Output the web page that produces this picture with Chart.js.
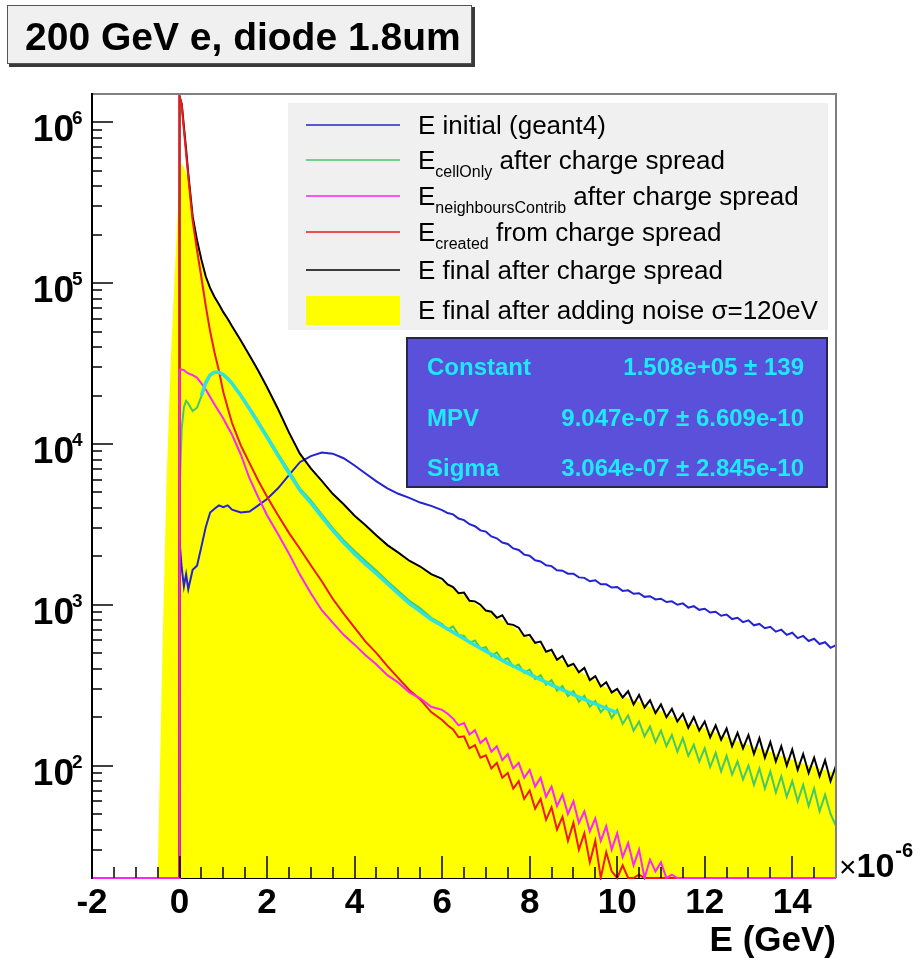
<!DOCTYPE html>
<html>
<head>
<meta charset="utf-8">
<title>200 GeV e, diode 1.8um</title>
<script src="https://cdn.jsdelivr.net/npm/chart.js@4.4.1/dist/chart.umd.min.js"></script>
<style>
  html, body { margin: 0; padding: 0; background: #fff; }
  canvas { display: block; }
</style>
</head>
<body>
<canvas id="energyChart" width="922" height="962"></canvas>
<script>
// Axis ranges (E in units of 1e-6 GeV, counts on a log axis)
const X_MIN = -2, X_MAX = 15;
const Y_MIN = 20, Y_MAX = 1.5e6;
const X_TICKS = [-2, 0, 2, 4, 6, 8, 10, 12, 14];
const Y_DECADES = [2, 3, 4, 5, 6];

// Bin positions shared by all histograms (0 appears twice: floor, then first bin)
const E_BINS = [
  -2, -1, -0.5, -0.4, -0.3, -0.2, -0.1, 0, 0,
  0.05, 0.1, 0.15, 0.2, 0.3, 0.4, 0.5, 0.6, 0.7, 0.8, 0.9, 1.0, 1.1, 1.2, 1.4, 1.6, 1.8, 2.0,
  2.25, 2.5, 2.75, 3, 3.25, 3.5, 3.75, 4, 4.25, 4.5, 4.75, 5, 5.25, 5.5, 5.75, 6,
  6.125, 6.25, 6.375, 6.5, 6.625, 6.75, 6.875, 7,
  7.125, 7.25, 7.375, 7.5, 7.625, 7.75, 7.875, 8,
  8.125, 8.25, 8.375, 8.5, 8.625, 8.75, 8.875, 9,
  9.125, 9.25, 9.375, 9.5, 9.625, 9.75, 9.875, 10,
  10.125, 10.25, 10.375, 10.5, 10.625, 10.75, 10.875, 11,
  11.125, 11.25, 11.375, 11.5, 11.625, 11.75, 11.875, 12,
  12.125, 12.25, 12.375, 12.5, 12.625, 12.75, 12.875, 13,
  13.125, 13.25, 13.375, 13.5, 13.625, 13.75, 13.875, 14,
  14.125, 14.25, 14.375, 14.5, 14.625, 14.75, 14.875, 15
];

// 0 = empty bin (drawn on the axis floor, as ROOT does)
const E_INITIAL = [
  0, 0, 0, 0, 0, 0, 0, 0, 2500,
  1700, 1300, 1550, 1250, 1650, 1750, 2300, 3050, 3750, 3950, 4150, 4050, 4150, 3900, 3750, 3800, 4150, 4550,
  5300, 6400, 7700, 8400, 8850, 8700, 8150, 7350, 6550, 5850, 5300, 4900, 4620, 4320, 4120, 3880,
  3720, 3650, 3440, 3360, 3170, 3080, 2900, 2850,
  2660, 2590, 2440, 2390, 2240, 2190, 2050, 2020,
  1890, 1860, 1760, 1740, 1640, 1630, 1560, 1560,
  1480, 1470, 1400, 1420, 1340, 1340, 1280, 1290,
  1220, 1230, 1170, 1180, 1120, 1130, 1080, 1090,
  1040, 1050, 1000, 1020, 960, 980, 930, 945,
  895, 905, 855, 870, 815, 830, 780, 800,
  745, 760, 715, 730, 680, 700, 650, 670,
  620, 640, 595, 615, 570, 585, 540, 560
];

const E_CELL_ONLY = [
  0, 0, 0, 0, 0, 0, 0, 0, 5000,
  12500, 17000, 18500, 17800, 16000, 16800, 19800, 23500, 26500, 28000, 27800, 26800, 25400, 23800, 20200, 16800, 13800, 11300,
  8700, 6800, 5300, 4450, 3650, 3000, 2520, 2160, 1870, 1630, 1400, 1220, 1060, 950, 830, 760,
  700, 735, 650, 640, 580, 600, 535, 545,
  480, 505, 450, 465, 410, 425, 378, 395,
  345, 365, 318, 340, 292, 312, 270, 290,
  250, 272, 232, 252, 215, 235, 198, 222,
  182, 205, 165, 188, 152, 175, 140, 165,
  132, 155, 122, 148, 115, 135, 106, 128,
  98, 120, 92, 115, 88, 106, 82, 100,
  76, 96, 72, 92, 68, 86, 64, 80,
  60, 76, 56, 72, 52, 66, 50, 42
];

const E_NEIGHBOURS = [
  0, 0, 0, 0, 0, 0, 0, 0, 29000,
  29000, 28800, 28000, 27500, 26800, 25800, 23800, 21800, 19600, 17600, 15900, 14400, 12800, 11400, 8600, 6100, 4650, 3600,
  2750, 2080, 1540, 1180, 925, 775, 650, 565, 485, 425, 365, 328, 285, 262, 232, 222,
  210, 196, 178, 184, 156, 166, 138, 148,
  122, 132, 108, 118, 96, 104, 84, 94,
  74, 84, 64, 74, 56, 66, 50, 60,
  44, 52, 39, 47, 34, 42, 30, 38,
  27, 33, 24, 30, 0, 26, 22, 25,
  0, 21, 0, 0, 0, 0, 0, 0,
  0, 0, 0, 0, 0, 0, 0, 0,
  0, 0, 0, 0, 0, 0, 0, 0,
  0, 0, 0, 0, 0, 0, 0, 0
];

const E_CREATED = [
  0, 0, 0, 0, 0, 0, 0, 0, 1450000,
  1280000, 900000, 640000, 460000, 245000, 160000, 108000, 72000, 50000, 37000, 28500, 21000, 16800, 13500, 9800, 7600, 5900, 4700,
  3600, 2800, 2230, 1760, 1400, 1090, 880, 720, 590, 500, 415, 350, 295, 258, 215, 192,
  178, 168, 150, 152, 128, 134, 112, 116,
  96, 104, 84, 90, 72, 80, 62, 70,
  54, 62, 46, 55, 40, 48, 34, 44,
  30, 38, 25, 34, 0, 29, 22, 0,
  24, 0, 0, 21, 0, 0, 0, 0,
  0, 0, 0, 0, 0, 0, 0, 0,
  0, 0, 0, 0, 0, 0, 0, 0,
  0, 0, 0, 0, 0, 0, 0, 0,
  0, 0, 0, 0, 0, 0, 0, 0
];

const E_FINAL = [
  0, 0, 0, 0, 0, 0, 0, 0, 1450000,
  1300000, 940000, 680000, 480000, 260000, 185000, 140000, 110000, 93000, 82000, 74000, 66000, 60000, 54000, 44000, 35500, 28500, 22500,
  16500, 11800, 8700, 7050, 5900, 4900, 4220, 3580, 3120, 2700, 2350, 2110, 1880, 1730, 1550, 1450,
  1340, 1290, 1180, 1190, 1060, 1050, 1000, 920,
  905, 830, 860, 760, 750, 720, 640, 650,
  580, 590, 510, 525, 455, 480, 415, 430,
  380, 405, 340, 360, 310, 330, 285, 300,
  265, 290, 240, 275, 230, 255, 212, 240,
  200, 225, 188, 210, 172, 200, 165, 188,
  150, 178, 145, 170, 132, 160, 128, 155,
  118, 148, 112, 140, 106, 132, 100, 126,
  94, 118, 90, 112, 86, 108, 80, 100
];

const E_NOISE = [
  0, 0, 20, 400, 5500, 33000, 130000, 450000, 450000,
  550000, 530000, 480000, 440000, 255000, 183000, 139000, 109000, 92000, 81000, 73000, 65500, 59500, 53500, 43500, 35000, 28000, 22200,
  16300, 11700, 8600, 7000, 5800, 4870, 4150, 3560, 3080, 2680, 2330, 2080, 1860, 1700, 1540, 1400,
  1330, 1260, 1200, 1140, 1080, 1020, 970, 920,
  880, 840, 805, 770, 730, 690, 655, 620,
  588, 555, 528, 500, 475, 450, 430, 410,
  390, 370, 355, 340, 322, 305, 295, 285,
  273, 262, 256, 250, 241, 232, 225, 218,
  210, 202, 197, 192, 186, 180, 175, 170,
  165, 160, 155, 151, 146, 142, 138, 135,
  131, 128, 125, 122, 118, 115, 112, 109,
  106, 103, 101, 99, 96, 94, 92, 90
];

// Landau fit curve (null = outside the fit range)
const LANDAU_FIT = [
  null, null, null, null, null, null, null, null, null,
  null, null, null, null, null, null, 20000, 24200, 26900, 27900, 27900, 27000, 25500, 23800, 20000, 16500, 13500, 11000,
  8500, 6600, 5150, 4300, 3520, 2900, 2430, 2070, 1790, 1560, 1350, 1170, 1020, 910, 810, 740,
  707, 675, 645, 615, 587, 560, 537, 515,
  492, 470, 451, 432, 416, 400, 385, 370,
  356, 342, 330, 318, 307, 296, 286, 276,
  267, 258, 250, 242, 234, 227, 220, 213,
  null, null, null, null, null, null, null, null,
  null, null, null, null, null, null, null, null,
  null, null, null, null, null, null, null, null,
  null, null, null, null, null, null, null, null,
  null, null, null, null, null, null, null, null
];

const FIT_NAMES = ['Constant', 'MPV', 'Sigma'];
const FIT_VALUES = ['1.508e+05 \u00b1 139', '9.047e-07 \u00b1 6.609e-10', '3.064e-07 \u00b1 2.845e-10'];

const LEGEND_SUBS = ['', 'cellOnly', 'neighboursContrib', 'created', '', ''];
const LEGEND_TEXT = [
  'E initial (geant4)',
  ' after charge spread',
  ' after charge spread',
  ' from charge spread',
  'E final after charge spread',
  'E final after adding noise \u03c3=120eV'
];

const COLORS = {
  initial: '#2323d2',
  cellOnly: '#46c866',
  neighbours: '#ff22ff',
  created: '#f01818',
  final: '#000000',
  noise: '#ffff00',
  fit: '#2fe3dc'
};
const LEGEND_COLORS = [COLORS.initial, COLORS.cellOnly, COLORS.neighbours, COLORS.created, COLORS.final, COLORS.noise];

function points(values) {
  return E_BINS.map((x, i) => {
    const v = values[i];
    if (v === null) return { x, y: null };
    return { x, y: v > 0 ? v : Y_MIN };
  });
}

function hist(label, values, color, order, width) {
  return {
    label, data: points(values), borderColor: color, backgroundColor: color,
    borderWidth: width || 2, pointRadius: 0, tension: 0, fill: false, order,
    clip: { left: 0, top: 0, right: 0, bottom: 2 }
  };
}

function text(ctx, s, x, y, font, color, align) {
  ctx.font = font;
  ctx.fillStyle = color;
  ctx.textAlign = align || 'left';
  ctx.textBaseline = 'alphabetic';
  ctx.fillText(s, x, y);
  return ctx.measureText(s).width;
}

const FONT = '"Liberation Sans", Arial, Helvetica, sans-serif';

const rootPad = {
  id: 'rootPad',
  beforeDraw(chart) {
    const { ctx, width, height } = chart;
    ctx.save();
    ctx.fillStyle = '#ffffff';
    ctx.fillRect(0, 0, width, height);
    ctx.restore();
  },
  beforeDatasetsDraw(chart) {
    const { ctx, chartArea: a } = chart;
    ctx.save();
    ctx.strokeStyle = '#000';
    ctx.lineWidth = 2;
    ctx.beginPath();
    ctx.moveTo(a.left, a.bottom);
    ctx.lineTo(a.right, a.bottom);
    ctx.stroke();
    ctx.restore();
  },
  afterDatasetsDraw(chart) {
    const { ctx, chartArea: a } = chart;
    const xs = chart.scales.x, ys = chart.scales.y;
    ctx.save();

    // frame
    ctx.lineWidth = 2;
    ctx.strokeStyle = '#808080';
    ctx.beginPath();
    ctx.moveTo(a.left, a.top);
    ctx.lineTo(a.right, a.top);
    ctx.lineTo(a.right, a.bottom);
    ctx.stroke();
    ctx.strokeStyle = '#000';
    ctx.beginPath();
    ctx.moveTo(a.left, a.top - 1);
    ctx.lineTo(a.left, a.bottom + 1);
    ctx.stroke();

    // y ticks (inside the frame)
    ctx.lineWidth = 1.5;
    for (let p = 1; p <= 6; p++) {
      for (let m = 1; m <= 9; m++) {
        const v = m * Math.pow(10, p);
        if (v <= Y_MIN || v > Y_MAX) continue;
        const py = Math.round(ys.getPixelForValue(v));
        ctx.beginPath();
        ctx.moveTo(a.left, py);
        ctx.lineTo(a.left + (m === 1 ? 21 : 10), py);
        ctx.stroke();
      }
    }
    // x ticks
    for (let v = X_MIN + 0.5; v < X_MAX; v += 0.5) {
      const px = Math.round(xs.getPixelForValue(v));
      const major = X_TICKS.includes(v);
      ctx.beginPath();
      ctx.moveTo(px, a.bottom);
      ctx.lineTo(px, a.bottom - (major ? 22 : 11));
      ctx.stroke();
    }

    // y labels 10^n
    Y_DECADES.forEach((p) => {
      const py = ys.getPixelForValue(Math.pow(10, p));
      text(ctx, '10', 74, py + 19, 'bold 37px ' + FONT, '#000', 'right');
      text(ctx, String(p), 72, py + 2, 'bold 19px ' + FONT, '#000', 'left');
    });
    // x labels
    X_TICKS.forEach((v) => {
      const px = xs.getPixelForValue(v);
      text(ctx, String(v), px, 913, 'bold 35px ' + FONT, '#000', 'center');
    });
    text(ctx, 'E (GeV)', a.right, 951, 'bold 35px ' + FONT, '#000', 'right');
    // x10^-6 multiplier
    let mx = a.right + 3;
    mx += text(ctx, '\u00d7', mx, 877, '30px ' + FONT, '#000', 'left');
    mx += text(ctx, '10', mx, 877, 'bold 34px ' + FONT, '#000', 'left');
    text(ctx, '-6', mx + 1, 857, 'bold 20px ' + FONT, '#000', 'left');

    drawLegend(ctx);
    drawFitBox(ctx);
    drawTitle(ctx);
    ctx.restore();
  }
};

function drawLegend(ctx) {
  const rowY = [125, 160, 196, 232, 270, 310];
  ctx.fillStyle = '#f0f0f0';
  ctx.fillRect(288, 103, 540, 227);
  rowY.forEach((y, i) => {
    if (i === 5) {
      ctx.fillStyle = LEGEND_COLORS[i];
      ctx.fillRect(306, y - 14, 94, 29);
    } else {
      ctx.strokeStyle = LEGEND_COLORS[i];
      ctx.lineWidth = 1.5;
      ctx.beginPath();
      ctx.moveTo(306, y);
      ctx.lineTo(400, y);
      ctx.stroke();
    }
    const base = y + 9;
    let tx = 418;
    if (LEGEND_SUBS[i]) {
      tx += text(ctx, 'E', tx, base, '26px ' + FONT, '#000', 'left');
      tx += text(ctx, LEGEND_SUBS[i], tx, base + 8, '16px ' + FONT, '#000', 'left');
      text(ctx, LEGEND_TEXT[i], tx, base, '26px ' + FONT, '#000', 'left');
    } else {
      text(ctx, LEGEND_TEXT[i], tx, base, '26px ' + FONT, '#000', 'left');
    }
  });
}

function drawFitBox(ctx) {
  ctx.fillStyle = '#5a50d9';
  ctx.fillRect(407, 338, 420, 149);
  ctx.strokeStyle = '#26264a';
  ctx.lineWidth = 2;
  ctx.strokeRect(407, 338, 420, 149);
  const rows = [375, 426, 476];
  FIT_NAMES.forEach((name, i) => {
    text(ctx, name, 427, rows[i], 'bold 24px ' + FONT, '#1fe9ff', 'left');
    text(ctx, FIT_VALUES[i], 804, rows[i], 'bold 24px ' + FONT, '#1fe9ff', 'right');
  });
}

function drawTitle(ctx) {
  ctx.fillStyle = '#3a3a3a';
  ctx.fillRect(9, 7, 466, 60);
  ctx.fillStyle = '#f0f0f0';
  ctx.fillRect(7, 5, 465, 59);
  ctx.strokeStyle = '#555';
  ctx.lineWidth = 1;
  ctx.strokeRect(7.5, 5.5, 464, 58);
  text(ctx, '200 GeV e, diode 1.8um', 25, 50, 'bold 39px ' + FONT, '#000', 'left');
}

const datasets = [
  hist('Landau fit', LANDAU_FIT, COLORS.fit, 1, 3.5),
  hist('E neighboursContrib after charge spread', E_NEIGHBOURS, COLORS.neighbours, 2),
  hist('E created from charge spread', E_CREATED, COLORS.created, 3),
  hist('E final after charge spread', E_FINAL, COLORS.final, 4),
  hist('E cellOnly after charge spread', E_CELL_ONLY, COLORS.cellOnly, 5),
  hist('E initial (geant4)', E_INITIAL, COLORS.initial, 6),
  {
    label: 'E final after adding noise', data: points(E_NOISE),
    borderColor: COLORS.noise, backgroundColor: COLORS.noise, borderWidth: 0,
    pointRadius: 0, tension: 0, fill: 'start', order: 10
  }
];

new Chart(document.getElementById('energyChart'), {
  type: 'line',
  data: { datasets },
  options: {
    responsive: false,
    animation: false,
    devicePixelRatio: 1,
    layout: { padding: { left: 92, top: 94, right: 86, bottom: 84 } },
    scales: {
      x: { type: 'linear', min: X_MIN, max: X_MAX, display: false },
      y: { type: 'logarithmic', min: Y_MIN, max: Y_MAX, display: false }
    },
    plugins: { legend: { display: false }, tooltip: { enabled: false } },
    elements: { point: { radius: 0 } }
  },
  plugins: [rootPad]
});
</script>
</body>
</html>
